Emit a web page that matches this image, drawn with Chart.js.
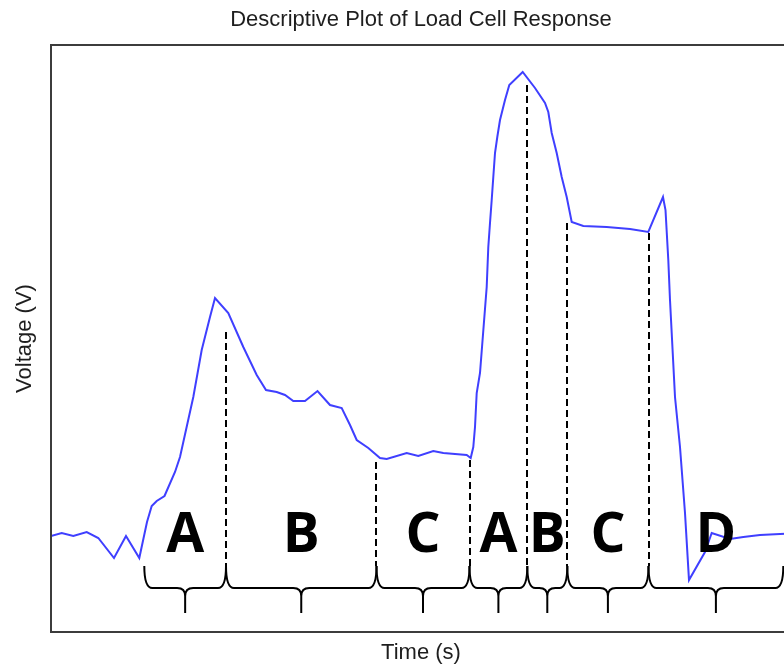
<!DOCTYPE html>
<html lang="en">
<head>
  <meta charset="UTF-8">
  <title>Descriptive Plot of Load Cell Response</title>
  <script src="https://cdn.jsdelivr.net/npm/chart.js"></script>
  <style>
    html, body {
      margin: 0;
      padding: 0;
      overflow: hidden;
      background: #fff;
    }
    .wrap {
      position: relative;
      width: 842px;
      height: 668px;
    }
  </style>
</head>
<body>
  <div class="wrap"><canvas id="loadChart"></canvas></div>

  <script>
    // Load cell trace: time (s) and output voltage (V)
    const times = [0, 1.07, 2.23, 3.57, 4.73, 6.3, 7.5, 8.83, 9.6, 10.07, 10.57, 11.35, 12.4, 12.9,
      14.23, 15.07, 15.9, 16.4, 17.73, 19.23, 20.57, 21.5, 22.57, 23.4, 24.23, 25.4, 26.65, 27.9,
      29.07, 29.9, 30.57, 31.73, 32.9, 33.57, 35.57, 36.73, 38.23, 39.23, 41.57, 41.97, 42.23,
      42.4, 42.57, 42.9, 43.57, 43.73, 43.9, 44.07, 44.23, 44.4, 44.63, 44.9, 45.4, 45.83, 47.17,
      48.4, 49.4, 49.73, 50.07, 50.57, 51.07, 51.57, 52.07, 53.23, 55.57, 57.9, 59.73, 61.2,
      61.45, 61.73, 61.9, 62.4, 62.9, 63.4, 63.8, 65.4, 66.07, 67.9, 69.23, 70.9, 72.9, 74];
    const volts = [0.96, 0.99, 0.96, 1.0, 0.94, 0.74, 0.96, 0.74, 1.1, 1.26, 1.31, 1.36, 1.6, 1.75,
      2.35, 2.82, 3.15, 3.34, 3.19, 2.85, 2.57, 2.42, 2.4, 2.37, 2.31, 2.31, 2.41, 2.27,
      2.24, 2.07, 1.92, 1.84, 1.74, 1.73, 1.79, 1.76, 1.81, 1.79, 1.77, 1.74, 1.85,
      2.05, 2.39, 2.59, 3.45, 3.85, 4.09, 4.32, 4.55, 4.79, 4.95, 5.12, 5.32, 5.47, 5.6,
      5.44, 5.29, 5.2, 4.99, 4.79, 4.55, 4.35, 4.1, 4.06, 4.05, 4.03, 4.0, 4.35,
      4.22, 3.72, 3.32, 2.35, 1.85, 1.19, 0.52, 0.8, 0.99, 0.93, 0.95, 0.97, 0.98, 0.985];

    // Phase boundaries (s) and the phase letter for each span between them
    const phaseEdges = [9.33, 17.5, 32.55, 41.85, 47.63, 51.63, 59.75, 73.23];
    const phaseNames = ['A', 'B', 'C', 'A', 'B', 'C', 'D'];
    // Voltage at which each inner dashed divider starts
    const dividerTops = [3.0, 1.7, 1.72, 5.47, 4.09, 3.99];

    const labelFont = { family: '"Liberation Sans", Arial, sans-serif', size: 22 };

    // frame, dashed dividers, braces and phase letters
    const phasePlugin = {
      id: 'phases',
      afterDatasetsDraw(chart) {
        const { ctx, chartArea: area, scales: { x, y } } = chart;
        const base = y.getPixelForValue(0.44);  // brace line
        const cusp = y.getPixelForValue(0.66);  // brace joints
        const tip = y.getPixelForValue(0.19);   // brace centre tip
        const r = 8;

        ctx.save();

        // dashed dividers
        ctx.strokeStyle = '#000';
        ctx.lineWidth = 2;
        ctx.setLineDash([7, 4]);
        for (let i = 1; i < phaseEdges.length - 1; i++) {
          const px = Math.round(x.getPixelForValue(phaseEdges[i]));
          ctx.beginPath();
          ctx.moveTo(px, y.getPixelForValue(dividerTops[i - 1]));
          ctx.lineTo(px, cusp);
          ctx.stroke();
        }
        ctx.setLineDash([]);

        // braces under each phase
        for (let i = 0; i < phaseNames.length; i++) {
          const x0 = x.getPixelForValue(phaseEdges[i]);
          const x1 = x.getPixelForValue(phaseEdges[i + 1]);
          const m = (x0 + x1) / 2;
          ctx.beginPath();
          ctx.moveTo(x0, cusp);
          ctx.quadraticCurveTo(x0, base, x0 + r, base);
          ctx.lineTo(m - r, base);
          ctx.quadraticCurveTo(m, base, m, base + r);
          ctx.lineTo(m, tip);
          ctx.moveTo(m, base + r);
          ctx.quadraticCurveTo(m, base, m + r, base);
          ctx.lineTo(x1 - r, base);
          ctx.quadraticCurveTo(x1, base, x1, cusp);
          ctx.stroke();
        }

        // phase letters
        ctx.fillStyle = '#000';
        ctx.font = 'bold 55px "Open Sans", "Liberation Sans", sans-serif';
        ctx.textAlign = 'center';
        ctx.textBaseline = 'alphabetic';
        const letterY = y.getPixelForValue(0.8);
        phaseNames.forEach((name, i) => {
          const m = (x.getPixelForValue(phaseEdges[i]) + x.getPixelForValue(phaseEdges[i + 1])) / 2;
          ctx.fillText(name, m, letterY);
        });

        // axes box (right side runs off the page)
        ctx.strokeStyle = '#3c3c3c';
        ctx.lineWidth = 2;
        ctx.beginPath();
        ctx.moveTo(area.right, Math.round(area.top));
        ctx.lineTo(Math.round(area.left), Math.round(area.top));
        ctx.lineTo(Math.round(area.left), Math.round(area.bottom));
        ctx.lineTo(area.right, Math.round(area.bottom));
        ctx.stroke();

        ctx.restore();
      }
    };

    const ctx = document.getElementById('loadChart').getContext('2d');
    new Chart(ctx, {
      type: 'line',
      data: {
        datasets: [{
          data: times.map((t, i) => ({ x: t, y: volts[i] })),
          borderColor: '#3f3fff',
          borderWidth: 2,
          pointRadius: 0,
          tension: 0,
          fill: false
        }]
      },
      options: {
        responsive: true,
        maintainAspectRatio: false,
        animation: false,
        layout: { padding: { right: 51 } },
        plugins: {
          legend: { display: false },
          tooltip: { enabled: false },
          title: {
            display: true,
            fullSize: false,
            text: 'Descriptive Plot of Load Cell Response',
            color: '#1e1e1e',
            font: { ...labelFont, weight: 'normal' },
            padding: { top: 6.3, bottom: 12.3 }
          }
        },
        scales: {
          x: {
            type: 'linear',
            min: 0,
            max: 74,
            grid: { display: false, drawTicks: false },
            border: { display: false },
            ticks: { display: false },
            title: {
              display: true,
              text: 'Time (s)',
              color: '#1e1e1e',
              font: labelFont,
              padding: { top: 7.8, bottom: 1.8 }
            }
          },
          y: {
            min: 0,
            max: 5.87,
            grid: { display: false, drawTicks: false },
            border: { display: false },
            ticks: { display: false },
            title: {
              display: true,
              text: 'Voltage (V)',
              color: '#1e1e1e',
              font: labelFont,
              padding: { top: 11.8, bottom: 12.8 }
            }
          }
        }
      },
      plugins: [phasePlugin]
    });
  </script>
</body>
</html>
